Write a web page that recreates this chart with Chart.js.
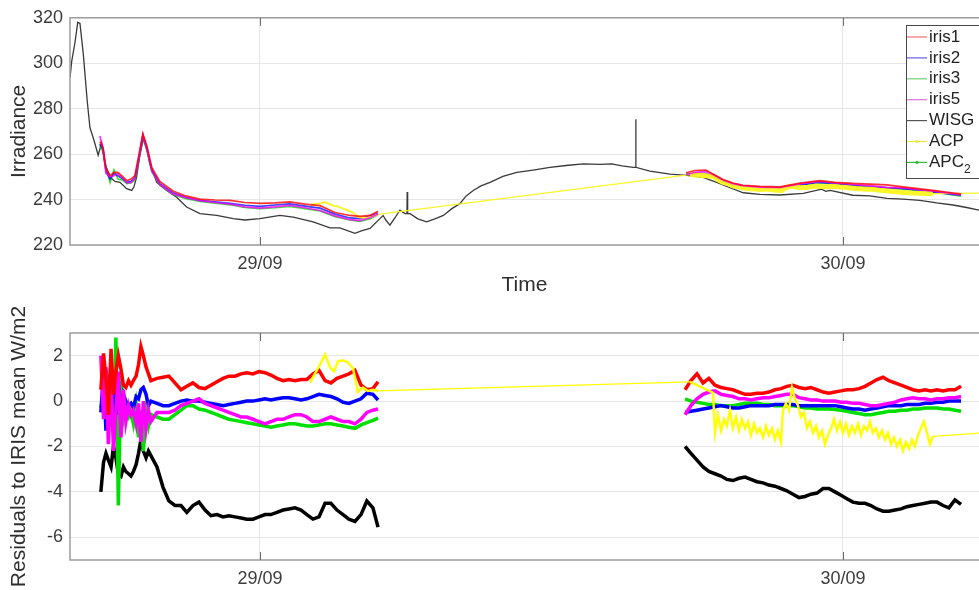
<!DOCTYPE html>
<html><head><meta charset="utf-8">
<script src="https://cdn.jsdelivr.net/npm/chart.js@4/dist/chart.umd.min.js"></script>
<style>
html,body{margin:0;padding:0;background:#fff;overflow:hidden;width:979px;height:590px;}
#c1{position:absolute;left:0;top:0;}
#c2{position:absolute;left:0;top:290px;}
</style></head><body>
<canvas id="c1" width="979" height="300"></canvas>
<canvas id="c2" width="979" height="300"></canvas>
<script>
// ---- axis ticks (hours since 29/09 00:00) ----
const xMin = -7.82, xMax = 29.6;
const xTickHours = [0, 24];
const xTickLabels = ['29/09', '30/09'];
const irrTicks = [220, 240, 260, 280, 300, 320];
const resTicks = [-6, -4, -2, 0, 2];

// ---- top panel: irradiance ----
const wisgIrrTime = [-7.82,-7.75,-7.62,-7.50,-7.41,-7.27,-7.11,-7.00,-6.83,-6.66,
 -6.52,-6.38,-6.17,-5.97,-5.76,-5.49,-5.28,-5.19,-5.08,-4.94,
 -4.80,-4.66,-4.53,-4.25,-3.84,-3.43,-3.02,-2.47,-1.78,-1.10,
 -0.62,0,0.82,1.37,2.19,2.88,3.29,3.91,4.20,4.53,
 4.94,5.07,5.18,5.35,5.56,5.76,5.97,6.05,6.06,6.08,
 6.18,6.50,6.86,7.20,7.55,7.90,8.23,8.48,8.78,9.10,
 9.47,10.00,10.57,11.24,11.94,12.60,13.31,14.00,14.48,14.90,
 15.37,15.46,15.47,15.48,16.05,16.88,17.57,18.24,18.80,19.35,
 19.90,20.58,21.41,22.37,23.12,23.30,23.47,24.41,25.11,25.81,
 26.47,27.17,27.86,28.53,29.09,29.60,30.05];
const wisgIrr = [293.5,300.8,308.8,318,317.5,303.8,283.3,271.7,266,259.5,
 265,255.7,249.8,248,247.6,244.8,244,245.5,249.8,260,
 266.6,263,255.7,247.6,244,241,236.7,233.8,233,231.6,
 231,231.6,233,232.3,230.2,227.5,227.5,225.1,226.3,227.3,
 231.6,233,231,228.7,232,235.3,233.8,233.8,243.3,233.8,
 233.8,231.5,230.2,231.5,233,236,238.2,241.5,244,246,
 247.6,250.2,252,253,254.2,255,255.7,255.5,255.7,254.8,
 254.2,254.2,275.3,254.2,252.5,251.2,250.6,249.8,247.6,245.2,
 243,242.3,242,242.7,244.6,243.6,244,241.9,241.6,240.5,
 240.2,239.6,238.5,237.6,236.5,235.3,234.6];

const irisIrrTime = [-6.59,-6.46,-6.34,-6.17,-6.01,-5.85,-5.64,-5.48,-5.31,-5.15,-4.98,-4.82,-4.65,-4.45,-4.12,-3.58,-3.05,-2.47,-1.85,-1.23,-0.62,0,0.62,1.23,1.85,2.47,3.09,3.70,4.12,4.53,4.86,
 11,
 17.54,17.91,18.36,18.65,19.06,19.47,19.88,20.58,21.41,22.23,23.05,23.67,24.41,25.11,25.81,26.47,27.17,27.87,28.53,28.86];
const iris1Irr = [265.5,263,254,250.5,252,252,250,248.3,249,250.5,260,269,263.5,254,248,243.8,241.6,240.2,239.8,239.6,238.7,238.3,238.5,239,238,237.3,234.3,233,232.6,233,234.8,
 null,
 251.8,252.8,253,251.2,248.8,247.3,246.3,245.8,245.6,247.2,248.3,247.6,247.1,246.8,246.5,245.6,244.7,243.8,242.9,242.5];
const iris2Irr = [264.5,262,252.5,249,251.5,250.5,249,247.6,248,249.5,258.5,268.2,262.2,253,247,243,241,239.6,239,238.3,237.5,237,237.6,238.1,237.1,236.2,233.6,231.9,231.6,232.9,234,
 null,
 250.7,251.4,251.5,250.2,248.0,246.6,245.8,245.2,244.9,246.4,247.6,247.0,246.3,245.7,245.2,244.8,244.0,243.2,242.3,241.9];
const iris3Irr = [264,261,254.5,247.5,253,249,248.5,247,247.3,248.5,257.5,267,261.5,252.2,246.3,242.2,240.4,239.2,238.4,237.7,236.6,236,236.4,237,236,235,232.5,231,230.4,231.6,233.3,
 null,
 251.3,251.5,251.3,250.1,247.9,246.5,245.7,245.2,244.9,246.3,247.4,246.8,246.1,245.5,245.0,244.6,243.9,243.0,242.1,241.5];
const iris5Irr = [268,262.5,251.5,250,250.5,251.5,249.5,247.3,247.5,249.3,258,268.5,261.8,252.5,246.6,242.5,240.8,239.5,238.7,238,236.8,236.2,236.8,237.4,236.4,235.2,232.8,231.2,230.7,232,233.6,
 null,
 250.9,252.0,252.4,251.0,248.6,247.0,246.1,245.5,245.3,246.9,248.0,247.3,246.7,246.1,245.4,245.1,244.4,243.5,242.6,242.1];

const acpIrrTime = [2.06,2.26,2.47,2.68,2.88,3.05,3.21,3.42,3.62,3.83,4.03,4.24,4.45,4.65,4.86,
 17.70,
 18.65,18.85,19.06,19.27,19.47,19.68,19.97,20.25,20.58,20.91,21.24,21.49,21.65,21.90,22.23,22.56,22.89,23.22,23.55,23.88,24.21,24.53,24.86,25.19,25.52,25.85,26.18,26.51,26.84,27.17,27.46,27.70,30.05];
const acpIrr = [237.6,238.0,238.3,238.9,237.9,237.2,237.0,236.0,235.2,234.3,232.4,232.0,232.1,232.6,233.5,
 251.0,
 250.3,248.8,247.6,247.0,246.0,245.6,245.0,244.8,244.4,244.6,244.1,244.0,245.3,245.8,245.2,245.4,246.0,245.6,245.9,245.5,245.2,244.9,244.7,244.5,244.1,243.8,243.4,243.1,242.9,242.8,242.7,242.6,242.9];

const apc2Time = [];
const apc2Irr = [];

// ---- bottom panel: residuals to IRIS mean (W/m2) ----
const resTime = [-6.55,-6.44,-6.34,-6.24,-6.13,-6.03,-5.93,-5.83,-5.72,-5.62,-5.52,-5.41,-5.31,-5.21,-5.10,-5.00,-4.90,-4.80,-4.69,-4.59,-4.49,
 -4.24,-3.99,-3.75,-3.50,-3.25,-3.01,-2.76,-2.51,-2.26,-2.02,-1.77,-1.52,-1.28,-1.03,-0.78,-0.54,-0.29,-0.04,0.21,0.45,0.70,0.95,1.19,1.44,1.69,1.93,2.18,2.43,2.68,2.92,3.17,3.42,3.66,3.91,4.16,4.40,4.65,4.86,
 11,
 17.50,17.74,17.99,18.24,18.48,18.73,18.98,19.22,19.47,19.72,19.97,20.21,20.46,20.71,20.95,21.20,21.45,21.69,21.94,22.19,22.44,22.68,22.93,23.18,23.42,23.67,23.92,24.16,24.41,24.66,24.91,25.15,25.40,25.65,25.89,26.14,26.39,26.63,26.88,27.13,27.38,27.62,27.87,28.12,28.36,28.61,28.86];
const iris1Res = [0.5,2.1,1.0,-0.6,2.3,0.3,1.3,2.0,1.4,0.7,0.6,0.9,0.7,0.9,1.1,1.6,2.4,2.0,1.5,1.2,0.9,
 1.0,1.05,1.1,0.8,0.5,0.65,0.8,0.6,0.55,0.7,0.85,1.0,1.1,1.1,1.2,1.25,1.2,1.3,1.25,1.15,1.0,0.9,0.95,0.9,0.95,0.95,1.2,1.35,0.9,0.8,1.0,1.1,1.2,1.35,0.7,0.5,0.55,0.85,
 null,
 0.5,0.9,1.2,0.8,1.0,0.7,0.6,0.55,0.5,0.4,0.3,0.3,0.35,0.35,0.4,0.5,0.55,0.65,0.7,0.6,0.55,0.6,0.5,0.4,0.35,0.4,0.45,0.5,0.5,0.55,0.65,0.8,0.95,1.05,0.9,0.8,0.7,0.6,0.5,0.45,0.5,0.45,0.5,0.45,0.5,0.5,0.65];
const iris2Res = [-0.5,1.2,-1.3,0.8,0.2,1.0,-0.6,0.9,-0.4,0.3,0.0,-0.2,-0.1,-0.3,0.2,0.1,0.5,0.6,0.3,-0.2,0.0,
 -0.1,-0.2,-0.2,-0.1,0.0,0.05,0.0,0.0,-0.05,-0.1,-0.15,-0.2,-0.15,-0.1,-0.05,0.0,0.0,0.05,0.1,0.05,0.1,0.15,0.15,0.1,0.05,0.1,0.2,0.3,0.25,0.2,0.1,-0.05,-0.1,0.0,0.1,0.35,0.3,0.05,
 null,
 -0.5,-0.45,-0.4,-0.35,-0.3,-0.25,-0.2,-0.25,-0.3,-0.3,-0.25,-0.2,-0.2,-0.2,-0.2,-0.15,-0.15,-0.15,-0.15,-0.2,-0.2,-0.2,-0.2,-0.2,-0.2,-0.2,-0.25,-0.3,-0.35,-0.35,-0.4,-0.35,-0.3,-0.25,-0.2,-0.2,-0.2,-0.15,-0.15,-0.15,-0.1,-0.1,-0.05,-0.05,0.0,0.0,0.0];
const iris3Res = [-0.3,0.5,1.4,-0.9,1.8,-1.5,2.8,-4.6,1.1,-0.8,-0.3,-0.7,-0.5,-1.0,-0.2,-1.6,-0.4,-2.2,-0.5,-1.1,-0.6,
 -0.7,-0.8,-0.8,-0.6,-0.4,-0.2,-0.2,-0.35,-0.4,-0.5,-0.6,-0.7,-0.8,-0.85,-0.9,-0.95,-1.0,-1.05,-1.1,-1.15,-1.1,-1.05,-1.0,-1.0,-1.05,-1.1,-1.1,-1.05,-1.0,-1.0,-1.05,-1.1,-1.15,-1.2,-1.05,-0.95,-0.85,-0.75,
 null,
 0.1,0.0,-0.05,-0.1,-0.15,-0.15,-0.2,-0.2,-0.2,-0.15,-0.1,-0.1,-0.1,-0.15,-0.15,-0.2,-0.2,-0.2,-0.2,-0.25,-0.3,-0.3,-0.35,-0.35,-0.35,-0.37,-0.4,-0.45,-0.5,-0.55,-0.6,-0.6,-0.55,-0.5,-0.45,-0.45,-0.4,-0.4,-0.35,-0.35,-0.3,-0.3,-0.3,-0.35,-0.35,-0.4,-0.45];
const iris5Res = [2.0,-0.8,1.5,-1.9,1.0,-2.2,-0.5,1.3,-1.6,0.5,-0.9,-0.2,-0.6,-0.4,-1.0,-0.1,-1.8,0.0,-1.2,-0.4,-0.9,
 -0.5,-0.5,-0.5,-0.4,-0.2,-0.1,0.0,0.1,-0.1,-0.2,-0.3,-0.4,-0.5,-0.6,-0.7,-0.7,-0.8,-0.9,-1.0,-0.9,-0.8,-0.8,-0.7,-0.6,-0.6,-0.7,-0.9,-0.9,-0.8,-0.7,-0.8,-0.9,-0.9,-1.0,-0.8,-0.5,-0.4,-0.35,
 null,
 -0.6,-0.2,0.1,0.3,0.4,0.45,0.3,0.25,0.2,0.1,0.1,0.05,0.1,0.15,0.15,0.2,0.25,0.3,0.3,0.15,0.1,0.05,0.05,0.0,0.0,0.0,-0.05,-0.05,-0.1,-0.1,-0.15,-0.2,-0.2,-0.15,-0.1,-0.05,0.05,0.1,0.15,0.1,0.1,0.05,0.1,0.1,0.15,0.15,0.2];
const wisgRes = [-4.0,-2.7,-2.3,-2.6,-2.9,-2.0,-2.5,-3.2,-3.3,-2.9,-3.1,-3.2,-3.3,-3.1,-2.8,-2.3,-1.7,-2.2,-2.5,-2.2,-2.4,
 -2.9,-3.8,-4.4,-4.6,-4.6,-4.9,-4.6,-4.45,-4.8,-5.05,-5.0,-5.1,-5.05,-5.1,-5.15,-5.2,-5.2,-5.1,-5.0,-5.0,-4.9,-4.8,-4.75,-4.7,-4.8,-5.0,-5.2,-5.1,-4.5,-4.5,-4.8,-5.0,-5.2,-5.3,-5.0,-4.4,-4.7,-5.55,
 null,
 -2.0,-2.3,-2.6,-2.9,-3.1,-3.2,-3.3,-3.45,-3.5,-3.4,-3.35,-3.45,-3.55,-3.6,-3.7,-3.75,-3.85,-3.95,-4.1,-4.25,-4.2,-4.1,-4.05,-3.85,-3.85,-4.0,-4.15,-4.3,-4.45,-4.5,-4.5,-4.6,-4.75,-4.85,-4.85,-4.8,-4.75,-4.65,-4.6,-4.55,-4.5,-4.45,-4.45,-4.6,-4.7,-4.35,-4.55];

const acpResTime = [2.06,2.26,2.47,2.68,2.88,3.05,3.21,3.42,3.62,3.83,4.03,4.24,4.45,4.65,4.86,
 17.70,
 18.65,18.73,18.85,18.98,19.10,19.22,19.35,19.47,19.60,19.72,19.84,19.97,20.09,20.21,20.34,20.46,20.58,20.71,20.83,20.95,
 21.08,21.20,21.32,21.45,21.53,21.65,21.78,21.90,22.02,22.15,22.27,22.39,22.52,22.64,22.77,22.89,23.01,23.14,23.26,23.38,
 23.51,23.63,23.75,23.88,24.00,24.12,24.25,24.37,24.49,24.62,24.74,24.86,24.99,25.11,25.23,25.36,25.48,25.61,25.73,25.85,
 25.98,26.10,26.22,26.35,26.47,26.59,26.72,26.84,26.96,27.09,27.21,27.33,27.46,27.58,27.70,30.05];
const acpRes = [0.8,1.2,1.6,2.05,1.5,1.3,1.75,1.8,1.7,1.45,0.4,0.6,0.45,0.5,0.45,
 0.85,
 0.37,-1.4,-0.6,-1.3,-0.8,-1.1,-0.4,-1.2,-0.7,-1.3,-0.8,-1.2,-0.9,-1.5,-1.0,-1.4,-1.2,-1.6,-1.1,-1.5,
 -1.2,-1.7,-1.3,-1.8,-0.4,-0.1,-0.4,0.6,0.1,-0.2,-0.7,-0.5,-1.2,-0.9,-1.4,-1.1,-1.6,-1.3,-1.9,-1.5,
 -1.2,-0.8,-1.3,-0.9,-1.4,-1.0,-1.5,-1.1,-1.4,-1.0,-1.5,-1.1,-1.3,-0.9,-1.4,-1.2,-1.6,-1.3,-1.7,-1.4,
 -1.9,-1.6,-2.0,-1.7,-2.2,-1.8,-2.1,-1.7,-2.0,-1.5,-1.2,-0.9,-1.4,-1.9,-1.55,-1.38];

// ---- helpers ----
const FONT = "'Liberation Sans', Arial, Helvetica, sans-serif";
Chart.defaults.font.family = FONT;
const pts = (t, v) => t.map((x, i) => ({x: x, y: v[i]}));
const gridColor = '#e6e6e6';
const tickColor = '#3c3c3c';

const framePlugin = {
  id: 'frame',
  afterDatasetsDraw(chart) {
    const {ctx, chartArea: a} = chart;
    const xs = chart.scales.x;
    ctx.save();
    ctx.strokeStyle = '#9c9c9c';
    ctx.lineWidth = 1.5;
    ctx.strokeRect(a.left, a.top, a.right - a.left + 5, a.bottom - a.top);
    ctx.strokeStyle = '#6a6a6a';
    ctx.lineWidth = 1;
    xs.ticks.forEach(t => {
      const px = Math.round(xs.getPixelForValue(t.value)) + 0.5;
      ctx.beginPath();
      ctx.moveTo(px, a.bottom); ctx.lineTo(px, a.bottom - 8);
      ctx.moveTo(px, a.top); ctx.lineTo(px, a.top + 8);
      ctx.stroke();
    });
    ctx.restore();
  }
};

const legendPlugin = {
  id: 'boxLegend',
  afterDraw(chart) {
    const ctx = chart.ctx;
    const ds = chart.data.datasets;
    const x0 = 906, y0 = 25, y1 = 178;
    ctx.save();
    ctx.fillStyle = '#fff';
    ctx.fillRect(x0, y0, 100, y1 - y0);
    ctx.strokeStyle = '#4a4a4a';
    ctx.lineWidth = 1;
    ctx.strokeRect(x0 + 0.5, y0 + 0.5, 100, y1 - y0);
    ctx.textBaseline = 'middle';
    ds.forEach((d, i) => {
      const y = 37 + i * 20.9;
      ctx.strokeStyle = d.legendColor;
      ctx.lineWidth = 1.2;
      ctx.beginPath(); ctx.moveTo(907, y); ctx.lineTo(927, y); ctx.stroke();
      if (d.legendDot) {
        ctx.fillStyle = d.legendColor;
        ctx.beginPath(); ctx.arc(917, y, 1.6, 0, Math.PI * 2); ctx.fill();
      }
      ctx.fillStyle = '#222';
      ctx.font = '17px ' + FONT;
      const lab = d.label;
      if (lab.endsWith('\u2082')) {
        const base = lab.slice(0, -1);
        ctx.fillText(base, 929, y);
        const w = ctx.measureText(base).width;
        ctx.font = '12px ' + FONT;
        ctx.fillText('2', 929 + w, y + 7);
      } else {
        ctx.fillText(lab, 929, y);
      }
    });
    ctx.restore();
  }
};

function xScale(height, withTitle) {
  return {
    type: 'linear', min: xMin, max: xMax,
    afterBuildTicks: s => { s.ticks = xTickHours.map(v => ({value: v})); },
    afterFit: s => { s.height = height; },
    ticks: {
      autoSkip: false, maxRotation: 0, padding: 8, color: tickColor,
      font: {size: 18},
      callback: (v, i) => xTickLabels[i]
    },
    grid: {color: gridColor, drawTicks: false, lineWidth: 1},
    border: {display: false},
    title: {display: withTitle, text: 'Time', color: '#2e2e2e', font: {size: 21}, padding: {top: 0, bottom: 2}}
  };
}
function yScale(min, max, tickArr, title) {
  return {
    type: 'linear', min: min, max: max,
    afterBuildTicks: s => { s.ticks = tickArr.map(v => ({value: v})); },
    afterFit: s => { s.width = 70; },
    ticks: {padding: 7, color: tickColor, font: {size: 18}},
    grid: {color: gridColor, drawTicks: false, lineWidth: 1},
    border: {display: false},
    title: {display: true, text: title, color: '#2e2e2e', font: {size: 21}, padding: {top: 7, bottom: 0}}
  };
}
const baseLine = {pointRadius: 0, pointHoverRadius: 0, fill: false, tension: 0, spanGaps: false};

// ---- top chart ----
new Chart(document.getElementById('c1'), {
  type: 'line',
  data: {
    datasets: [
      Object.assign({}, baseLine, {label: 'iris1', data: pts(irisIrrTime, iris1Irr), borderColor: 'rgba(255,0,0,0.8)', legendColor: '#f07070', borderWidth: 1.7, order: 1}),
      Object.assign({}, baseLine, {label: 'iris2', data: pts(irisIrrTime, iris2Irr), borderColor: 'rgba(0,0,255,0.75)', legendColor: '#6060e0', borderWidth: 1.7, order: 4}),
      Object.assign({}, baseLine, {label: 'iris3', data: pts(irisIrrTime, iris3Irr), borderColor: 'rgba(0,210,0,0.75)', legendColor: '#70d070', borderWidth: 1.7, order: 5}),
      Object.assign({}, baseLine, {label: 'iris5', data: pts(irisIrrTime, iris5Irr), borderColor: 'rgba(255,0,255,0.8)', legendColor: '#e070e0', borderWidth: 1.7, order: 2}),
      Object.assign({}, baseLine, {label: 'WISG', data: pts(wisgIrrTime, wisgIrr), borderColor: '#3a3a3a', legendColor: '#555', borderWidth: 1.3, order: 6}),
      Object.assign({}, baseLine, {label: 'ACP', data: pts(acpIrrTime, acpIrr), borderColor: 'rgba(250,245,30,0.95)', legendColor: '#e8e840', legendDot: true, borderWidth: 1.5, order: 3,
        segment: {borderWidth: c => (c.p1.parsed.x - c.p0.parsed.x > 2) ? 1.3 : (c.p0.parsed.x > 17 ? 5 : 2)}}),
      Object.assign({}, baseLine, {label: 'APC\u2082', data: pts(apc2Time, apc2Irr), borderColor: '#30c030', legendColor: '#30c030', legendDot: true, borderWidth: 1.2, order: 7})
    ]
  },
  options: {
    responsive: false, animation: false, devicePixelRatio: 1,
    layout: {padding: {top: 16, left: 0, right: 0, bottom: 0}},
    plugins: {legend: {display: false}, tooltip: {enabled: false}},
    scales: {x: xScale(55, true), y: yScale(220, 320, irrTicks, 'Irradiance')}
  },
  plugins: [framePlugin, legendPlugin]
});

// ---- bottom chart ----
new Chart(document.getElementById('c2'), {
  type: 'line',
  data: {
    datasets: [
      Object.assign({}, baseLine, {label: 'iris1', data: pts(resTime, iris1Res), borderColor: '#ff0000', borderWidth: 3.5, order: 2}),
      Object.assign({}, baseLine, {label: 'iris2', data: pts(resTime, iris2Res), borderColor: '#0000ff', borderWidth: 3.5, order: 4}),
      Object.assign({}, baseLine, {label: 'iris3', data: pts(resTime, iris3Res), borderColor: '#00e000', borderWidth: 3.5, order: 5}),
      Object.assign({}, baseLine, {label: 'iris5', data: pts(resTime, iris5Res), borderColor: '#ff00ff', borderWidth: 3.5, order: 3}),
      Object.assign({}, baseLine, {label: 'WISG', data: pts(resTime, wisgRes), borderColor: '#000000', borderWidth: 3.5, order: 6}),
      Object.assign({}, baseLine, {label: 'ACP', data: pts(acpResTime, acpRes), borderColor: '#ffff00', borderWidth: 2, order: 1,
        segment: {borderWidth: c => (c.p1.parsed.x - c.p0.parsed.x > 2) ? 1.3 : 2.4}})
    ]
  },
  options: {
    responsive: false, animation: false, devicePixelRatio: 1,
    layout: {padding: {top: 43, left: 0, right: 0, bottom: 0}},
    plugins: {legend: {display: false}, tooltip: {enabled: false}},
    scales: {x: xScale(30, false), y: yScale(-7, 3, resTicks, 'Residuals to IRIS mean W/m2')}
  },
  plugins: [framePlugin]
});
</script></body></html>
